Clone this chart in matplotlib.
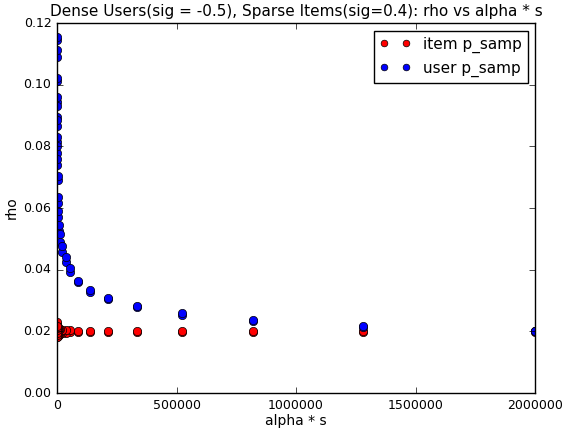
import matplotlib
matplotlib.use('Agg')
import matplotlib.pyplot as plt

# alpha * s values (each repeated for two runs)
alpha_s = [2000000, 1280000, 819200, 524288, 335544, 214748, 137439, 87961,
           56295, 36029, 23058, 14757, 9445, 6045, 3869, 2476, 1585, 1014,
           649, 415, 266, 170, 109, 70, 45]

user_rho_a = [0.0200, 0.0213, 0.0233, 0.0254, 0.0278, 0.0304, 0.0329, 0.0359,
              0.0393, 0.0425, 0.0458, 0.0490, 0.0525, 0.0570, 0.0615, 0.0690,
              0.0740, 0.0780, 0.0815, 0.0865, 0.0895, 0.0945, 0.1012, 0.1090,
              0.1145]
user_rho_b = [0.0201, 0.0216, 0.0237, 0.0258, 0.0282, 0.0308, 0.0333, 0.0363,
              0.0406, 0.0440, 0.0478, 0.0515, 0.0545, 0.0590, 0.0635, 0.0705,
              0.0760, 0.0800, 0.0830, 0.0885, 0.0930, 0.0960, 0.1022, 0.1112,
              0.1155]

item_rho_a = [0.0199, 0.0198, 0.0198, 0.0199, 0.0198, 0.0198, 0.0199, 0.0198,
              0.0197, 0.0196, 0.0195, 0.0192, 0.0190, 0.0188, 0.0186, 0.0185,
              0.0190, 0.0195, 0.0200, 0.0205, 0.0210, 0.0215, 0.0220, 0.0225,
              0.0230]
item_rho_b = [0.0200, 0.0201, 0.0200, 0.0201, 0.0201, 0.0200, 0.0201, 0.0202,
              0.0203, 0.0204, 0.0205, 0.0207, 0.0209, 0.0211, 0.0213, 0.0198,
              0.0193, 0.0187, 0.0183, 0.0182, 0.0188, 0.0196, 0.0204, 0.0212,
              0.0218]

plt.style.use('classic')
fig = plt.figure(figsize=(5.64, 4.3), dpi=100)
ax = fig.add_subplot(111)
fig.subplots_adjust(left=0.101, right=0.949, bottom=0.086, top=0.9465)

ax.plot(alpha_s + alpha_s, item_rho_a + item_rho_b, 'o', color='red',
        mec='black', mew=0.5, ms=6, label='item p_samp')
ax.plot(alpha_s + alpha_s, user_rho_a + user_rho_b, 'o', color='blue',
        mec='black', mew=0.5, ms=6, label='user p_samp')

ax.set_xlim(0, 2000000)
ax.set_ylim(0, 0.12)
ax.set_xlabel('alpha * s', fontsize=10, labelpad=2)
ax.set_ylabel('rho', fontsize=10, labelpad=3)
ax.set_title('Dense Users(sig = -0.5), Sparse Items(sig=0.4): rho vs alpha * s', fontsize=11)
ax.tick_params(labelsize=9)
ax.legend(loc='upper right', numpoints=2, fontsize=11, markerscale=0.8)

fig.savefig('out.png', dpi=100)
